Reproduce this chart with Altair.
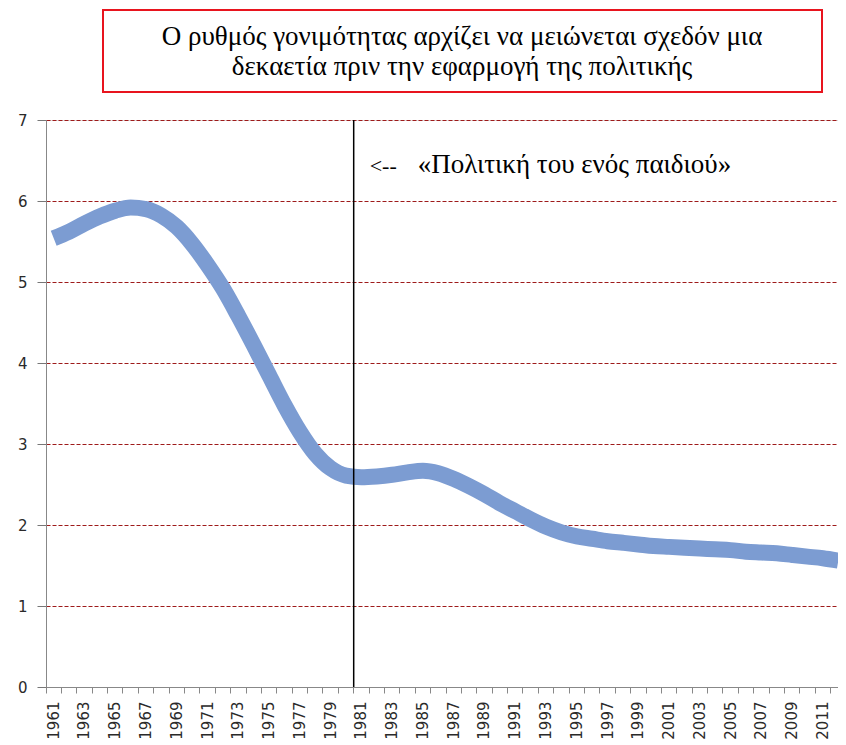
import altair as alt
import pandas as pd

YEARS = list(range(1961, 2013))
RATES = [5.54, 5.62, 5.72, 5.81, 5.88, 5.92, 5.90, 5.82, 5.68, 5.47,
         5.21, 4.92, 4.58, 4.22, 3.85, 3.48, 3.15, 2.88, 2.70, 2.61,
         2.59, 2.60, 2.62, 2.65, 2.67, 2.64, 2.57, 2.48, 2.38, 2.27,
         2.17, 2.07, 1.98, 1.91, 1.86, 1.83, 1.80, 1.78, 1.76, 1.74,
         1.73, 1.72, 1.71, 1.70, 1.69, 1.67, 1.66, 1.65, 1.63, 1.61,
         1.59, 1.56]
Y_TICKS = [0, 1, 2, 3, 4, 5, 6, 7]
POLICY_YEAR = [1981]
ARROW = "<--"
POLICY = "«Πολιτική του ενός παιδιού»"
TITLE_LINES = ["Ο ρυθμός γονιμότητας αρχίζει να μειώνεται σχεδόν μια",
               "δεκαετία πριν την εφαρμογή της πολιτικής"]

df = pd.DataFrame({"year": YEARS, "rate": RATES})
pol = pd.DataFrame({"year": POLICY_YEAR})
one = pd.DataFrame({"a": [0]})

W, H = 792, 567
x_scale = alt.Scale(domain=YEARS, range=[0, 800], paddingInner=0, paddingOuter=0)
y_scale = alt.Scale(domain=[0, 7], nice=False)

x_axis = alt.Axis(title=None, labelAngle=-90, bandPosition=0,
                  labelExpr="datum.value % 2 == 1 ? datum.label : ''",
                  labelOverlap=False, labelFont="DejaVu Sans", labelFontSize=15,
                  labelColor="#2a2a2a", labelPadding=8, tickSize=6,
                  tickColor="#888888", domainColor="#888888", grid=False)
y_axis = alt.Axis(title=None, values=Y_TICKS, labelFont="DejaVu Sans",
                  labelFontSize=15, labelColor="#2a2a2a", labelPadding=10,
                  tickSize=9, tickColor="#777777", domainColor="#888888",
                  grid=True, gridColor="#9E1B1B", gridDash=[4, 2], gridWidth=1)

line = alt.Chart(df).mark_line(color="#7C9CD2", strokeWidth=16,
                               interpolate="monotone").encode(
    x=alt.X("year:O", scale=x_scale, axis=x_axis),
    y=alt.Y("rate:Q", scale=y_scale, axis=y_axis),
)

rule = alt.Chart(pol).mark_rule(color="black", strokeWidth=1.5).encode(
    x=alt.X("year:O", scale=x_scale, bandPosition=0),
)

arrow = alt.Chart(pol).mark_text(text=ARROW, font="Liberation Serif", fontSize=22,
                                 align="left", baseline="alphabetic", dx=16,
                                 color="black").encode(
    x=alt.X("year:O", scale=x_scale, bandPosition=0),
    y=alt.value(53),
)
policy = alt.Chart(pol).mark_text(text=POLICY, font="Liberation Serif", fontSize=27,
                                  align="left", baseline="alphabetic", dx=64,
                                  color="black").encode(
    x=alt.X("year:O", scale=x_scale, bandPosition=0),
    y=alt.value(53),
)

box = alt.Chart(one).mark_rect(fill="white", stroke="#E8141E", strokeWidth=2).encode(
    x=alt.value(57), x2=alt.value(776), y=alt.value(-110), y2=alt.value(-28),
)
title = alt.Chart(one).mark_text(text=TITLE_LINES, font="Liberation Serif",
                                 fontSize=27, lineHeight=30, align="center",
                                 baseline="alphabetic", color="black").encode(
    x=alt.value(416), y=alt.value(-75),
)

chart = alt.layer(line, rule, arrow, policy, box, title).properties(
    width=W, height=H,
    autosize=alt.AutoSizeParams(type="none"),
    padding={"left": 38, "top": 112, "right": 0, "bottom": 58},
).configure_view(strokeWidth=0).configure(background="white")

chart.save("out.html", embed_options={"renderer": "svg", "actions": False})
